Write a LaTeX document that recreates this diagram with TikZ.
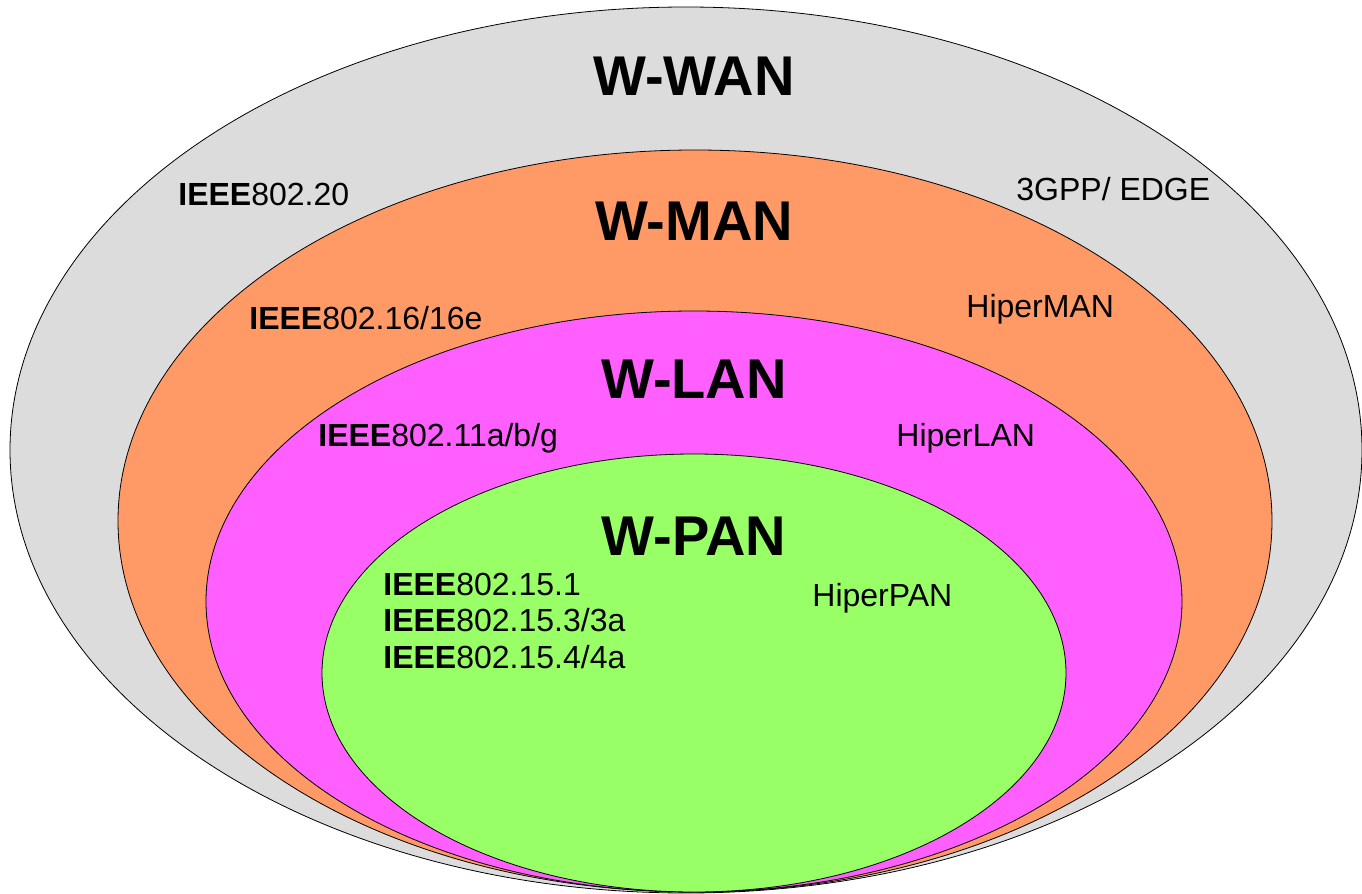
\documentclass[tikz,border=0pt]{standalone}
\usepackage{fontspec}
\setmainfont{Liberation Sans}
\definecolor{wangray}{RGB}{220,220,220}
\definecolor{manorange}{RGB}{255,153,102}
\definecolor{lanpink}{RGB}{255,95,255}
\definecolor{pangreen}{RGB}{153,255,102}
\tikzset{
  zone/.style={draw=black, line width=0.4pt},
  zonetitle/.style={anchor=base, inner sep=0pt, font=\bfseries\fontsize{28}{30}\selectfont},
  standard/.style={anchor=base west, inner sep=0pt, font=\fontsize{16}{18}\selectfont}
}
\begin{document}
\begin{tikzpicture}[x=0.5pt, y=-0.5pt]
            \useasboundingbox (0,0) rectangle (1362,894);
            
            % Drawing ellipse W-WAN
            \draw [zone, fill=wangray] (686,450) ellipse [x radius=676, y radius=443];%
            
            % Drawing ellipse W-MAN
            \draw [zone, fill=manorange] (695,521) ellipse [x radius=577, y radius=371];%
            
            % Drawing ellipse W-LAN
            \draw [zone, fill=lanpink] (694,601.5) ellipse [x radius=488, y radius=290.5];%
            
            % Drawing ellipse W-PAN
            \draw [zone, fill=pangreen] (694,673) ellipse [x radius=372, y radius=219];%
            
            % Titles
            \node [zonetitle] (wan) at (694,95) {W-WAN};%
            \node [zonetitle] (man) at (694,240) {W-MAN};%
            \node [zonetitle] (lan) at (694,398) {W-LAN};%
            \node [zonetitle] (pan) at (694,555) {W-PAN};%
            
            % Standards of W-WAN
            \node [standard] (ieee20) at (178,205) {\textbf{IEEE}802.20};%
            \node [standard] (edge) at (1016,200) {3GPP/ EDGE};%
            
            % Standards of W-MAN
            \node [standard] (ieee16) at (249,329) {\textbf{IEEE}802.16/16e};%
            \node [standard] (hiperman) at (966,317) {HiperMAN};%
            
            % Standards of W-LAN
            \node [standard] (ieee11) at (318,446) {\textbf{IEEE}802.11a/b/g};%
            \node [standard] (hiperlan) at (896,446) {HiperLAN};%
            
            % Standards of W-PAN
            \node [standard] (ieee151) at (383,595) {\textbf{IEEE}802.15.1};%
            \node [standard] (ieee153) at (383,631) {\textbf{IEEE}802.15.3/3a};%
            \node [standard] (ieee154) at (383,668) {\textbf{IEEE}802.15.4/4a};%
            \node [standard] (hiperpan) at (812,606) {HiperPAN};%
\end{tikzpicture}
\end{document}
